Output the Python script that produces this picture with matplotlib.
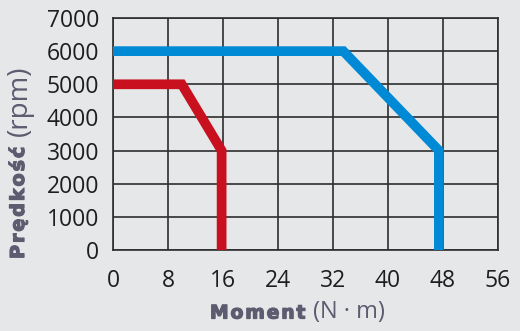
"""Speed-torque curves of two motors."""
import matplotlib
matplotlib.use("Agg")
from matplotlib import pyplot as plt
from matplotlib import patheffects as pe

# torque (N·m) / speed (rpm) for the two curves
torque_small = [0, 10, 15.8, 15.8]
speed_small = [5000, 5000, 3000, 0]
torque_large = [0, 33.5, 47.4, 47.4]
speed_large = [6000, 6000, 3000, 0]

x_ticks = [0, 8, 16, 24, 32, 40, 48, 56]
y_ticks = [0, 1000, 2000, 3000, 4000, 5000, 6000, 7000]

BG = "#e6e7e9"
GRID = "#2e2e2e"
LABEL = "#5c5b70"

fig = plt.figure(figsize=(5.2, 3.31), dpi=100, facecolor=BG)
ax = fig.add_axes([113 / 520, 81 / 331, 385 / 520, 232 / 331])
ax.set_facecolor(BG)

ax.plot(torque_small, speed_small, color="#c8101e", lw=7,
        solid_joinstyle="miter", solid_capstyle="butt", zorder=3, clip_on=False)
ax.plot(torque_large, speed_large, color="#0089d4", lw=7,
        solid_joinstyle="miter", solid_capstyle="butt", zorder=3, clip_on=False)

ax.set_xlim(0, 56)
ax.set_ylim(0, 7000)
ax.set_xticks(x_ticks)
ax.set_yticks(y_ticks)
ax.grid(True, color=GRID, lw=1.2)
ax.set_axisbelow(True)
for s in ax.spines.values():
    s.set_color(GRID)
    s.set_linewidth(1.2)
ax.tick_params(length=0, labelsize=16.5, labelcolor="#1e1e1e", pad=10)
ax.tick_params(axis="x", pad=14)
for lbl in ax.get_xticklabels() + ax.get_yticklabels():
    lbl.set_fontfamily("Open Sans")


def tracked(word):
    # hair spaces between letters to imitate the wide tracking of the heavy titles
    return "\u200a".join(word)


# axis titles: heavy word + light unit
heavy = [pe.withStroke(linewidth=0.9, foreground=LABEL)]
fig.text(18 / 520, (331 - 259) / 331, tracked("Prędkość"), rotation=90, ha="center",
         va="bottom", fontsize=13.8, fontweight="bold", family="DejaVu Sans", color=LABEL,
         path_effects=heavy)
fig.text(20 / 520, (331 - 136) / 331, "(rpm)", rotation=90, ha="center", va="bottom",
         fontsize=20, family="Open Sans", color=LABEL)
fig.text(210 / 520, (331 - 313) / 331, tracked("Moment"), ha="left", va="center",
         fontsize=13.5, fontweight="bold", family="DejaVu Sans", color=LABEL,
         path_effects=heavy)
fig.text(313 / 520, (331 - 312) / 331, "(N · m)", ha="left", va="center",
         fontsize=17, family="Open Sans", color=LABEL)

fig.savefig("out.png", dpi=100, facecolor=BG)
